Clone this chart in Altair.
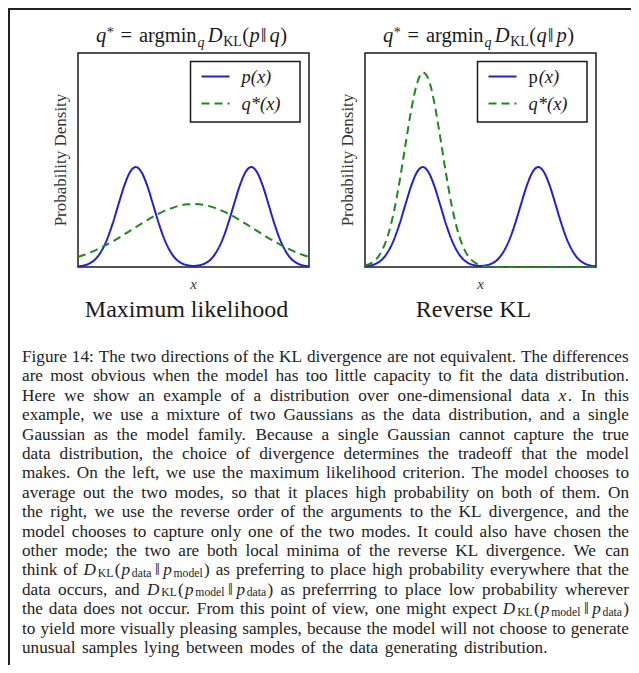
import altair as alt
import pandas as pd

# ---------------- data ----------------
X_VALUES = [0.0, 0.25, 0.5, 0.75, 1.0, 1.25, 1.5, 1.75, 2.0, 2.25,
            2.5, 2.75, 3.0, 3.25, 3.5, 3.75, 4.0, 4.25, 4.5, 4.75,
            5.0, 5.25, 5.5, 5.75, 6.0, 6.25, 6.5, 6.75, 7.0, 7.25,
            7.5, 7.75, 8.0, 8.25, 8.5, 8.75, 9.0, 9.25, 9.5, 9.75, 10.0]

P_DATA = [0.003, 0.007, 0.017, 0.036, 0.072, 0.127, 0.203, 0.292, 0.379, 0.443,
          0.467, 0.443, 0.379, 0.292, 0.203, 0.127, 0.072, 0.036, 0.017, 0.008,
          0.005, 0.008, 0.017, 0.036, 0.072, 0.127, 0.203, 0.292, 0.379, 0.443,
          0.467, 0.443, 0.379, 0.292, 0.203, 0.127, 0.072, 0.036, 0.017, 0.007, 0.003]

Q_MAX_LIKELIHOOD = [0.047, 0.056, 0.066, 0.078, 0.091, 0.105, 0.120, 0.135, 0.152, 0.169,
                    0.186, 0.203, 0.219, 0.235, 0.249, 0.262, 0.273, 0.282, 0.289, 0.293,
                    0.294, 0.293, 0.289, 0.282, 0.273, 0.262, 0.249, 0.235, 0.219, 0.203,
                    0.186, 0.169, 0.152, 0.135, 0.120, 0.105, 0.091, 0.078, 0.066, 0.056, 0.047]

Q_REVERSE_KL = [0.007, 0.017, 0.038, 0.080, 0.150, 0.258, 0.402, 0.570, 0.733, 0.857,
                0.909, 0.877, 0.768, 0.611, 0.441, 0.290, 0.173, 0.094, 0.046, 0.021,
                0.008, 0.003, 0.001, 0.0, 0.0, 0.0, 0.0, 0.0, 0.0, 0.0,
                0.0, 0.0, 0.0, 0.0, 0.0, 0.0, 0.0, 0.0, 0.0, 0.0, 0.0]

SERIES = ["p(x)", "q*(x)"]
TITLE_ARGS = [("p", "q"), ("q", "p")]
PANEL_SUBTITLES = ["Maximum likelihood", "Reverse KL"]
Y_LABEL = "Probability Density"
X_LABEL = "x"

CAPTION_LINES = [
    "Figure 14: The two directions of the KL divergence are not equivalent. The differences",
    "are most obvious when the model has too little capacity to fit the data distribution.",
    "Here we show an example of a distribution over one-dimensional data x. In this",
    "example, we use a mixture of two Gaussians as the data distribution, and a single",
    "Gaussian as the model family. Because a single Gaussian cannot capture the true",
    "data distribution, the choice of divergence determines the tradeoff that the model",
    "makes. On the left, we use the maximum likelihood criterion. The model chooses to",
    "average out the two modes, so that it places high probability on both of them. On",
    "the right, we use the reverse order of the arguments to the KL divergence, and the",
    "model chooses to capture only one of the two modes. It could also have chosen the",
    "other mode; the two are both local minima of the reverse KL divergence. We can",
    "think of DKL(pdata\u2016pmodel) as preferring to place high probability everywhere that the",
    "data occurs, and DKL(pmodel\u2016pdata) as preferrring to place low probability wherever",
    "the data does not occur. From this point of view, one might expect DKL(pmodel\u2016pdata)",
    "to yield more visually pleasing samples, because the model will not choose to generate",
    "unusual samples lying between modes of the data generating distribution.",
]

# ---------------- styling / geometry ----------------
BLUE = "#2020d0"
GREEN = "#1e881e"
INK = "#1a1a1a"
FONT = "Liberation Serif"
W, H = 623, 657
PLOT_W = 231
PLOT_TOP, PLOT_BOTTOM = 45, 259
PANEL_LEFTS = [70, 357]

# font metrics (em units) of Liberation Serif / Times, used to justify the caption
ROMAN = dict(zip("abcdefghijklmnopqrstuvwxyz",
                 [.444, .5, .444, .5, .444, .333, .5, .5, .278, .278, .5, .278, .778,
                  .5, .5, .5, .5, .333, .389, .278, .5, .5, .722, .5, .5, .444]))
ROMAN.update(dict(zip("ABCDEFGHIJKLMNOPQRSTUVWXYZ",
                      [.722, .667, .667, .722, .611, .556, .722, .722, .333, .389, .722, .611, .889,
                       .722, .722, .556, .722, .667, .556, .611, .722, .722, .944, .722, .722, .611])))
ROMAN.update({" ": .25, ".": .25, ",": .25, ":": .278, ";": .278, "-": .333, "(": .333, ")": .333})
for d in "0123456789":
    ROMAN[d] = .5
ITALIC = {"D": .76, "p": .53, "x": .47, "q": .5}
SUB = 0.68
SUB_DY = 1.4
BAR = 0.55
MATH_PAD = 1.2

MATH_WORDS = {
    "x.": [("x", "i"), (".", "r")],
    "DKL(pdata\u2016pmodel)": [("D", "i"), ("KL", "s"), ("(", "r"), ("p", "i"), ("data", "s"),
                               ("\u2016", "b"), ("p", "i"), ("model", "s"), (")", "r")],
    "DKL(pmodel\u2016pdata)": [("D", "i"), ("KL", "s"), ("(", "r"), ("p", "i"), ("model", "s"),
                               ("\u2016", "b"), ("p", "i"), ("data", "s"), (")", "r")],
}

CAP_F = 17.2
CAP_LEFT, CAP_RIGHT = 14, 621


def frag_w(text, kind, f):
    if kind == "r":
        return sum(ROMAN.get(c, .5) for c in text) * f
    if kind == "i":
        return sum(ITALIC.get(c, .5) for c in text) * f
    if kind == "s":
        return sum(ROMAN.get(c, .5) for c in text) * f * SUB
    return BAR * f


def word_w(w):
    return sum(frag_w(t, k, CAP_F) for t, k in w) + MATH_PAD * (len(w) - 1)


cap_rows = {"r": [], "i": [], "s": [], "b": []}
for li, line in enumerate(CAPTION_LINES):
    words = [MATH_WORDS.get(w, [(w, "r")]) for w in line.split()]
    widths = [word_w(w) for w in words]
    if li < len(CAPTION_LINES) - 1:
        gap = (CAP_RIGHT - CAP_LEFT - sum(widths)) / (len(words) - 1)
    else:
        gap = 0.38 * CAP_F
    px = CAP_LEFT
    for w, ww in zip(words, widths):
        fx = px
        for t, k in w:
            fw = frag_w(t, k, CAP_F)
            cap_rows[k].append({"line": li, "px": fx + (fw / 2 if k == "b" else 0), "text": t})
            fx += fw + MATH_PAD
        px += ww + gap

one = pd.DataFrame({"k": [0]})


def txt(s, x, y, size, style="normal", align="left", baseline="alphabetic",
        angle=0, color=INK):
    props = dict(font=FONT, fontSize=size, fontStyle=style, align=align,
                 baseline=baseline, color=color)
    if angle:
        props["angle"] = angle
    return alt.Chart(one).mark_text(**props).encode(
        x=alt.value(x), y=alt.value(y), text=alt.value(s))


layers = []

# outer frame lines (top and left)
layers.append(alt.Chart(one).mark_rule(color="#222", strokeWidth=2).encode(
    x=alt.value(0), x2=alt.value(W), y=alt.value(1)))
layers.append(alt.Chart(one).mark_rule(color="#222", strokeWidth=2).encode(
    x=alt.value(1), y=alt.value(0), y2=alt.value(H)))

for i, q_vals in enumerate([Q_MAX_LIKELIHOOD, Q_REVERSE_KL]):
    left = PANEL_LEFTS[i]
    xs = alt.Scale(domain=[X_VALUES[0], X_VALUES[-1]], range=[left, left + PLOT_W],
                   nice=False, zero=False)
    ys = alt.Scale(domain=[0, 1], range=[PLOT_BOTTOM, PLOT_TOP], nice=False, zero=False)

    frame_df = pd.DataFrame({"x0": [X_VALUES[0]], "x1": [X_VALUES[-1]],
                             "y0": [0.0], "y1": [1.0]})
    layers.append(alt.Chart(frame_df).mark_rect(fill="white", stroke=INK, strokeWidth=1.5).encode(
        x=alt.X("x0:Q", scale=xs, axis=None), x2="x1:Q",
        y=alt.Y("y0:Q", scale=ys, axis=None), y2="y1:Q"))

    df = pd.DataFrame({
        "x": X_VALUES * 2,
        "y": P_DATA + q_vals,
        "series": [SERIES[0]] * len(X_VALUES) + [SERIES[1]] * len(X_VALUES),
    })
    layers.append(alt.Chart(df).mark_line(strokeWidth=2, interpolate="monotone").encode(
        x=alt.X("x:Q", scale=xs, axis=None),
        y=alt.Y("y:Q", scale=ys, axis=None),
        color=alt.Color("series:N", scale=alt.Scale(domain=SERIES, range=[BLUE, GREEN]), legend=None),
        strokeDash=alt.StrokeDash("series:N", scale=alt.Scale(domain=SERIES, range=[[1, 0], [8, 5]]),
                                  legend=None),
    ))

    # legend box
    bx0, bx1, by0, by1 = left + 112.5, left + 222, 53.5, 114
    layers.append(alt.Chart(one).mark_rect(fill="white", stroke=INK, strokeWidth=1.5).encode(
        x=alt.value(bx0), x2=alt.value(bx1), y=alt.value(by0), y2=alt.value(by1)))
    layers.append(alt.Chart(one).mark_rule(color=BLUE, strokeWidth=2).encode(
        x=alt.value(bx0 + 11), x2=alt.value(bx0 + 39), y=alt.value(by0 + 15)))
    layers.append(alt.Chart(one).mark_rule(color=GREEN, strokeWidth=2, strokeDash=[8, 5]).encode(
        x=alt.value(bx0 + 11), x2=alt.value(bx0 + 39), y=alt.value(by0 + 42)))
    if i == 0:
        layers.append(txt(SERIES[0], bx0 + 51, by0 + 15, 18.5, "italic", baseline="middle"))
    else:
        layers.append(txt(SERIES[0][0], bx0 + 51, by0 + 15, 18.5, baseline="middle"))
        layers.append(txt(SERIES[0][1:], bx0 + 51 + 0.55 * 18.5, by0 + 15, 18.5, "italic",
                          baseline="middle"))
    layers.append(txt(SERIES[1], bx0 + 51, by0 + 42, 18.5, "italic", baseline="middle"))

    # axis titles
    layers.append(txt(Y_LABEL, left - 17.5, (PLOT_TOP + PLOT_BOTTOM) / 2, 17, align="center",
                      baseline="middle", angle=270, color="#333"))
    layers.append(txt(X_LABEL, left + PLOT_W / 2, PLOT_BOTTOM + 17, 15, "italic",
                      align="center", baseline="middle", color="#333"))

    # subtitle below the panel
    layers.append(txt(PANEL_SUBTITLES[i], left + 108.5, PLOT_BOTTOM + 50, 24, align="center"))

    # title q* = argmin_q D_KL(a||b)
    a, b = TITLE_ARGS[i]
    x0 = left + 18
    base = 33.5
    k = 0.975
    frags = [("q", 0, 20.5, "italic", 0), ("*", 11, 14, "normal", -5),
             ("=", 25, 20.5, "normal", 0), ("argmin", 44, 20.5, "normal", 0),
             ("q", 104, 14, "italic", 5), ("D", 114.5, 20.5, "italic", 0),
             ("KL", 130.5, 14, "normal", 4), ("(", 150, 20.5, "normal", 0),
             (a, 157.5, 20.5, "italic", 0), ("\u2016", 169, 20.5, "normal", 0),
             (b, 178, 20.5, "italic", 0), (")", 189, 20.5, "normal", 0)]
    for s, dx, size, style, dy in frags:
        layers.append(txt(s, x0 + dx * k, base + dy, size, style))

# caption (justified, word by word)
cap_y = alt.Scale(domain=[0, len(CAPTION_LINES) - 1], range=[354, 645], nice=False, zero=False)
cap_styles = {
    "r": dict(fontSize=CAP_F, align="left"),
    "i": dict(fontSize=CAP_F, align="left", fontStyle="italic"),
    "s": dict(fontSize=CAP_F * SUB, align="left", dy=SUB_DY),
    "b": dict(fontSize=CAP_F, align="center"),
}
for kind, style in cap_styles.items():
    if not cap_rows[kind]:
        continue
    layers.append(alt.Chart(pd.DataFrame(cap_rows[kind])).mark_text(
        baseline="alphabetic", font=FONT, color="#222", **style).encode(
        x=alt.X("px:Q", scale=None),
        y=alt.Y("line:Q", scale=cap_y, axis=None),
        text="text:N"))

chart = alt.layer(*layers).resolve_scale(
    x="independent", y="independent", color="independent", strokeDash="independent"
).properties(
    width=W, height=H, autosize=alt.AutoSizeParams(type="none"), padding=0
).configure_view(stroke=None)

chart.save("out.html", embed_options={"renderer": "svg", "actions": False})
